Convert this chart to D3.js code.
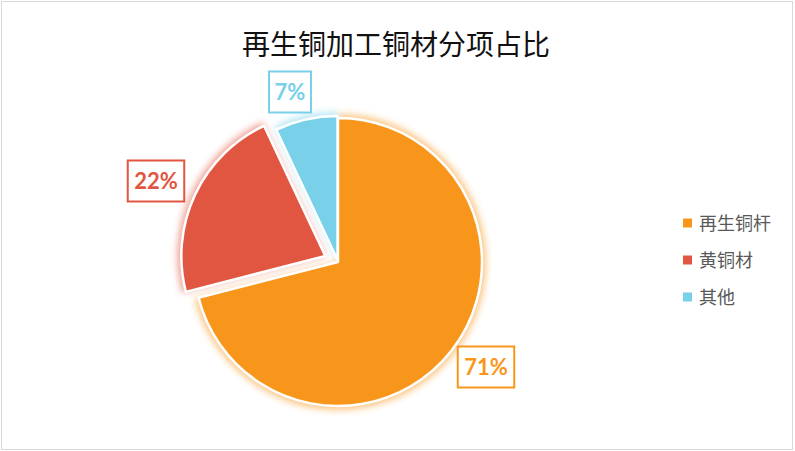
<!DOCTYPE html>
<html><head><meta charset="utf-8">
<script src="https://cdn.jsdelivr.net/npm/d3@7"></script>
<style>
html,body{margin:0;padding:0;background:#fff;}
svg{display:block;font-family:"Noto Sans CJK SC","Microsoft YaHei",sans-serif;}
</style></head>
<body>
<svg id="chart" width="795" height="451"></svg>
<script>
const title = "再生铜加工铜材分项占比";
const categories = ["再生铜杆", "黄铜材", "其他"];
const values = [71, 22, 7];
const labels = ["71%", "22%", "7%"];
const colors = ["#F8961C", "#E15641", "#78D0E9"];
const explode = [0, 14, 2];

const W = 795, H = 451;
const svg = d3.select("#chart");

svg.append("rect").attr("x", 1.5).attr("y", 1.5).attr("width", W - 4).attr("height", H - 3)
  .attr("fill", "#fff").attr("stroke", "#D9D9D9").attr("stroke-width", 1);

const defs = svg.append("defs");
const f = defs.append("filter").attr("id", "glow").attr("x", "-20%").attr("y", "-20%").attr("width", "140%").attr("height", "140%");
f.append("feGaussianBlur").attr("in", "SourceGraphic").attr("stdDeviation", 3.5).attr("result", "b");
f.append("feComponentTransfer").attr("in", "b")
  .append("feFuncA").attr("type", "linear").attr("slope", 0.55);

svg.append("text").attr("x", 396).attr("y", 55).attr("text-anchor", "middle")
  .attr("font-size", 28).attr("fill", "#111").text(title);

const cx = 338, cy = 262, r = 144;
const pie = d3.pie().sort(null).value(d => d)(values);
const arc = d3.arc().innerRadius(0).outerRadius(r);
const glowArc = d3.arc().innerRadius(0).outerRadius(r + 4);
const shift = (d, i) => {
  const a = (d.startAngle + d.endAngle) / 2;
  return `translate(${Math.sin(a) * explode[i]},${-Math.cos(a) * explode[i]})`;
};

const g = svg.append("g").attr("transform", `translate(${cx},${cy})`);
g.selectAll("path.glow").data(pie).enter().append("path").attr("class", "glow")
  .attr("d", glowArc).attr("transform", shift)
  .attr("fill", (d, i) => colors[i]).attr("filter", "url(#glow)");
g.selectAll("path.slice").data(pie).enter().append("path").attr("class", "slice")
  .attr("d", arc).attr("transform", shift)
  .attr("fill", (d, i) => colors[i])
  .attr("stroke", "#fff").attr("stroke-width", 2.5).attr("stroke-linejoin", "round");

// data labels (boxes)
const labelPos = [[486, 367], [156, 181], [290, 92]];
labelPos.forEach((p, i) => {
  const tw = labels[i].length * 14.5 + 13;
  svg.append("rect").attr("x", p[0] - tw / 2).attr("y", p[1] - 20.5).attr("width", tw).attr("height", 41)
    .attr("fill", "#fff").attr("stroke", colors[i]).attr("stroke-width", 2);
  svg.append("text").attr("x", p[0]).attr("y", p[1] + 8).attr("text-anchor", "middle")
    .attr("font-size", 22).attr("font-weight", "bold").attr("fill", colors[i])
    .attr("font-family", "Lato, 'Open Sans', sans-serif").text(labels[i]);
});

// legend
const leg = svg.append("g");
categories.forEach((c, i) => {
  const y = 223 + i * 37;
  leg.append("rect").attr("x", 683).attr("y", y - 4.5).attr("width", 9).attr("height", 9).attr("fill", colors[i]);
  leg.append("text").attr("x", 699).attr("y", y + 6.5).attr("font-size", 18).attr("fill", "#595959").text(c);
});
</script>
</body></html>
